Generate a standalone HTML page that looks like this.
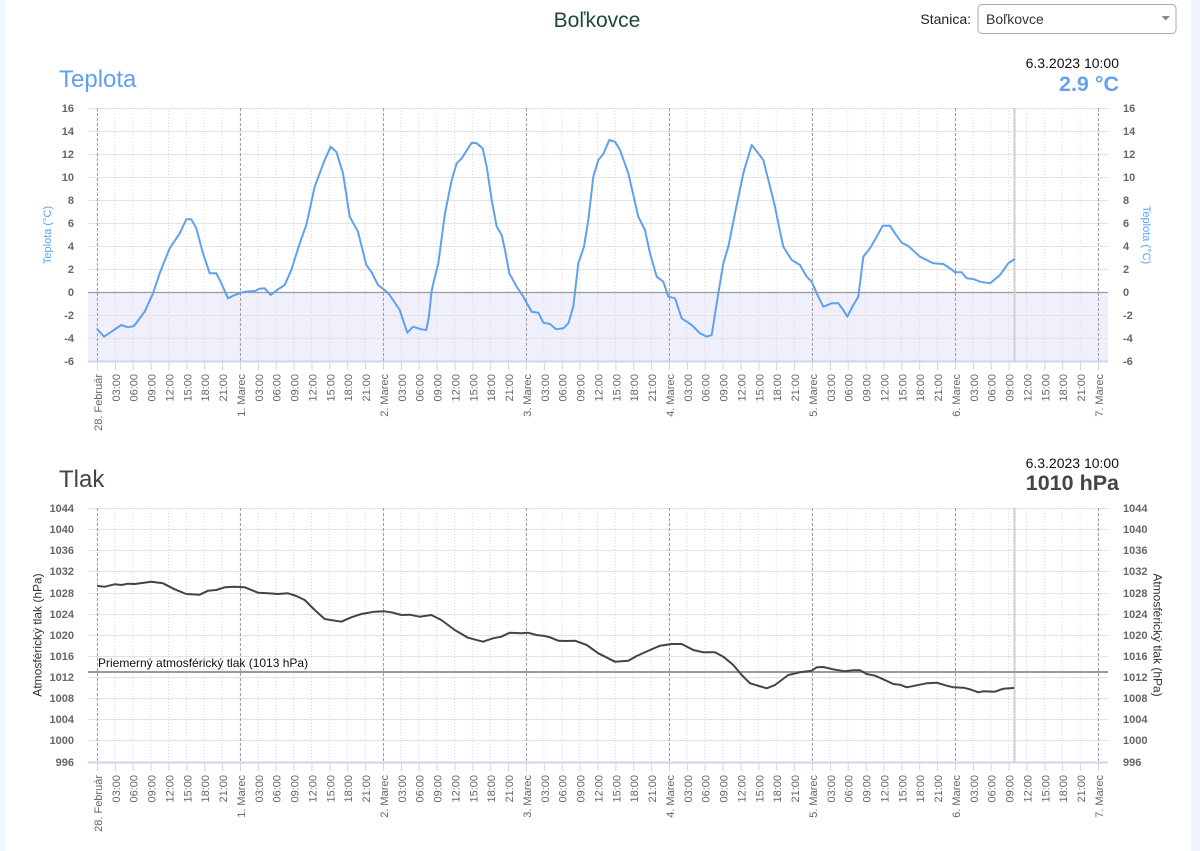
<!DOCTYPE html>
<html><head><meta charset="utf-8">
<style>
html,body{margin:0;padding:0;background:#fff;width:1200px;height:851px;overflow:hidden}
svg{display:block}
text{font-family:"Liberation Sans",Arial,sans-serif}
.yl{font-size:11px;font-weight:bold;fill:#666}
.xl{font-size:11px;fill:#666}
</style></head><body>
<svg width="1200" height="851" viewBox="0 0 1200 851" xmlns="http://www.w3.org/2000/svg">
<defs>
<pattern id="dots" x="96.5" y="0" width="17.875" height="3" patternUnits="userSpaceOnUse">
<rect x="0" y="0" width="1" height="1" fill="#d8d8d8"/>
</pattern>
</defs>
<rect x="0" y="0" width="5" height="851" fill="#f1f6fc"/>
<rect x="1191" y="0" width="9" height="851" fill="#f1f6fc"/>

<!-- header -->
<text x="597" y="27" text-anchor="middle" font-size="21" fill="#1e4a36">Boľkovce</text>
<text x="971" y="24" text-anchor="end" font-size="14" fill="#222">Stanica:</text>
<rect x="978" y="4.5" width="198" height="29" rx="4" fill="#fff" stroke="#aaa"/>
<text x="986" y="24" font-size="14" fill="#333">Boľkovce</text>
<polygon points="1161.5,16 1170,16 1165.75,20.5" fill="#888"/>

<!-- TEMPERATURE -->
<text x="59" y="87" font-size="24" fill="#5fa0f0">Teplota</text>
<text x="1119" y="68" text-anchor="end" font-size="14" fill="#111">6.3.2023 10:00</text>
<text x="1119" y="91" text-anchor="end" font-size="21.5" font-weight="bold" fill="#66a3ef">2.9 °C</text>

<rect x="88" y="292.5" width="1020" height="69" fill="#f0f0fc"/>
<rect x="88" y="108" width="1020" height="253" fill="url(#dots)"/>
<g stroke="#e3e3e3" stroke-width="1">
<path d="M88 108.5H1108M88 131.5H1108M88 154.5H1108M88 177.5H1108M88 200.5H1108M88 223.5H1108M88 246.5H1108M88 269.5H1108M88 315.5H1108M88 338.5H1108"/>
</g>
<path d="M88 292.5H1108" stroke="#999" stroke-width="1.3"/>
<g stroke="#a0a0a0" stroke-width="1" stroke-dasharray="3,2">
<path d="M97.5 108V361M240.5 108V361M383.5 108V361M526.5 108V361M669.5 108V361M812.5 108V361M955.5 108V361M1098.5 108V361"/>
</g>
<path d="M1014.5 108V361" stroke="#cfcfcf" stroke-width="2"/>
<path d="M88 361.5H1108" stroke="#ccd6eb" stroke-width="2"/>
<path stroke="#ccd6eb" stroke-width="1" d="M97.5 362V370M115.4 362V370M133.2 362V370M151.1 362V370M169 362V370M186.9 362V370M204.7 362V370M222.6 362V370M240.5 362V370M258.4 362V370M276.2 362V370M294.1 362V370M312 362V370M329.9 362V370M347.7 362V370M365.6 362V370M383.5 362V370M401.4 362V370M419.2 362V370M437.1 362V370M455 362V370M472.9 362V370M490.7 362V370M508.6 362V370M526.5 362V370M544.4 362V370M562.2 362V370M580.1 362V370M598 362V370M615.9 362V370M633.7 362V370M651.6 362V370M669.5 362V370M687.4 362V370M705.2 362V370M723.1 362V370M741 362V370M758.9 362V370M776.7 362V370M794.6 362V370M812.5 362V370M830.4 362V370M848.2 362V370M866.1 362V370M884 362V370M901.9 362V370M919.7 362V370M937.6 362V370M955.5 362V370M973.4 362V370M991.2 362V370M1009.1 362V370M1027 362V370M1044.9 362V370M1062.7 362V370M1080.6 362V370M1098.5 362V370"/>

<g class="yl" text-anchor="end">
<text x="74" y="112">16</text><text x="74" y="135">14</text><text x="74" y="158">12</text><text x="74" y="181">10</text><text x="74" y="204">8</text><text x="74" y="227">6</text><text x="74" y="250">4</text><text x="74" y="273">2</text><text x="74" y="296">0</text><text x="74" y="319">-2</text><text x="74" y="342">-4</text><text x="74" y="365">-6</text>
</g>
<g class="yl">
<text x="1123" y="112">16</text><text x="1123" y="135">14</text><text x="1123" y="158">12</text><text x="1123" y="181">10</text><text x="1123" y="204">8</text><text x="1123" y="227">6</text><text x="1123" y="250">4</text><text x="1123" y="273">2</text><text x="1123" y="296">0</text><text x="1123" y="319">-2</text><text x="1123" y="342">-4</text><text x="1123" y="365">-6</text>
</g>
<text transform="translate(51,235) rotate(-90)" text-anchor="middle" font-size="11" fill="#5fa0f0">Teplota (°C)</text>
<text transform="translate(1143,235) rotate(90)" text-anchor="middle" font-size="11" fill="#5fa0f0">Teplota (°C)</text>

<g class="xl" text-anchor="end">
<text transform="translate(102,374) rotate(-90)">28. Február</text>
<text transform="translate(119.9,374) rotate(-90)">03:00</text>
<text transform="translate(137.7,374) rotate(-90)">06:00</text>
<text transform="translate(155.6,374) rotate(-90)">09:00</text>
<text transform="translate(173.5,374) rotate(-90)">12:00</text>
<text transform="translate(191.4,374) rotate(-90)">15:00</text>
<text transform="translate(209.2,374) rotate(-90)">18:00</text>
<text transform="translate(227.1,374) rotate(-90)">21:00</text>
<text transform="translate(245,374) rotate(-90)">1. Marec</text>
<text transform="translate(262.9,374) rotate(-90)">03:00</text>
<text transform="translate(280.7,374) rotate(-90)">06:00</text>
<text transform="translate(298.6,374) rotate(-90)">09:00</text>
<text transform="translate(316.5,374) rotate(-90)">12:00</text>
<text transform="translate(334.4,374) rotate(-90)">15:00</text>
<text transform="translate(352.2,374) rotate(-90)">18:00</text>
<text transform="translate(370.1,374) rotate(-90)">21:00</text>
<text transform="translate(388,374) rotate(-90)">2. Marec</text>
<text transform="translate(405.9,374) rotate(-90)">03:00</text>
<text transform="translate(423.7,374) rotate(-90)">06:00</text>
<text transform="translate(441.6,374) rotate(-90)">09:00</text>
<text transform="translate(459.5,374) rotate(-90)">12:00</text>
<text transform="translate(477.4,374) rotate(-90)">15:00</text>
<text transform="translate(495.2,374) rotate(-90)">18:00</text>
<text transform="translate(513.1,374) rotate(-90)">21:00</text>
<text transform="translate(531,374) rotate(-90)">3. Marec</text>
<text transform="translate(548.9,374) rotate(-90)">03:00</text>
<text transform="translate(566.7,374) rotate(-90)">06:00</text>
<text transform="translate(584.6,374) rotate(-90)">09:00</text>
<text transform="translate(602.5,374) rotate(-90)">12:00</text>
<text transform="translate(620.4,374) rotate(-90)">15:00</text>
<text transform="translate(638.2,374) rotate(-90)">18:00</text>
<text transform="translate(656.1,374) rotate(-90)">21:00</text>
<text transform="translate(674,374) rotate(-90)">4. Marec</text>
<text transform="translate(691.9,374) rotate(-90)">03:00</text>
<text transform="translate(709.7,374) rotate(-90)">06:00</text>
<text transform="translate(727.6,374) rotate(-90)">09:00</text>
<text transform="translate(745.5,374) rotate(-90)">12:00</text>
<text transform="translate(763.4,374) rotate(-90)">15:00</text>
<text transform="translate(781.2,374) rotate(-90)">18:00</text>
<text transform="translate(799.1,374) rotate(-90)">21:00</text>
<text transform="translate(817,374) rotate(-90)">5. Marec</text>
<text transform="translate(834.9,374) rotate(-90)">03:00</text>
<text transform="translate(852.7,374) rotate(-90)">06:00</text>
<text transform="translate(870.6,374) rotate(-90)">09:00</text>
<text transform="translate(888.5,374) rotate(-90)">12:00</text>
<text transform="translate(906.4,374) rotate(-90)">15:00</text>
<text transform="translate(924.2,374) rotate(-90)">18:00</text>
<text transform="translate(942.1,374) rotate(-90)">21:00</text>
<text transform="translate(960,374) rotate(-90)">6. Marec</text>
<text transform="translate(977.9,374) rotate(-90)">03:00</text>
<text transform="translate(995.7,374) rotate(-90)">06:00</text>
<text transform="translate(1013.6,374) rotate(-90)">09:00</text>
<text transform="translate(1031.5,374) rotate(-90)">12:00</text>
<text transform="translate(1049.4,374) rotate(-90)">15:00</text>
<text transform="translate(1067.2,374) rotate(-90)">18:00</text>
<text transform="translate(1085.1,374) rotate(-90)">21:00</text>
<text transform="translate(1103,374) rotate(-90)">7. Marec</text>
</g>

<polyline fill="none" stroke="#5fa0f0" stroke-width="2" stroke-linejoin="round" stroke-linecap="round" points="97.3,329.3 104,336.7 121.3,325 128,327.3 134,326 144.7,311.7 153,293.3 159.7,273.3 169.7,248.3 179.7,233.3 186.3,219.3 191.3,219.3 196.3,228.3 203,253.3 209.7,273.3 216.3,273.3 221.3,283.3 228,298.3 234.7,295 244.7,291.7 254.7,291 259.7,288.7 264.7,288.3 270.7,295 278,289.3 284.7,285 291.3,270 299.7,243.3 306.3,225 314.7,186.7 324.7,160 330.7,146.7 336.3,151.7 343,173.3 349.7,216.7 358,231.7 366.3,265 371.3,271.7 378,285 384.7,290 389.7,295 399.7,310 407.3,332.7 413,326.7 421.3,329.3 426.3,330 429,316 431.5,292 433.3,283.3 438.3,263.3 445,213.3 451.7,180 456.7,163.3 461.7,158.3 471.7,142.7 476.7,143.3 482.7,148.3 486.7,166.7 491.7,200 496.7,226.7 501.7,235 505,250 509.3,273.3 516.7,286.7 523.3,296.7 531.7,311.7 538.3,312.7 543.3,322.7 550,324 556,329.3 563.3,328.3 568.3,323.3 573.3,306.7 578.3,263.3 584,246.7 588.3,220 593.3,176.7 598.3,160 603.3,154 609.3,140 615,141.7 620,150 628.3,173.3 638.3,216.7 645,230 650,253.3 656.7,276.7 663.3,281.7 668.3,296.7 675,298.3 681.7,318.3 691.7,325 700,333.3 706.7,336.7 711.7,335 716.7,303.3 723.3,263.3 728.3,246.7 735,213.3 743.3,173.3 751.7,145 758.3,153.3 763.3,160 771.7,193.3 775,206.7 779.3,228 783.3,246.7 791.7,260 800,265 806.7,276.7 811.7,281.7 816.7,293.3 823.3,306.7 831.7,303.3 838.3,303.3 843.3,310 847.3,316.7 853.3,305 858.3,296.7 863.3,256.7 870,248.3 876.7,236.7 882.7,225.7 890,225.7 895,233.3 901.7,242.7 908.3,246 920,256.7 933.3,263.3 943.3,264 950,268.3 955,272.3 961.7,272.3 966.7,278.3 973.3,279 980,281.7 990,283.3 1000,275 1008.3,263.3 1014.3,259.3"/>

<!-- PRESSURE -->
<text x="59" y="487" font-size="24" fill="#444">Tlak</text>
<text x="1119" y="468" text-anchor="end" font-size="14" fill="#111">6.3.2023 10:00</text>
<text x="1119" y="490" text-anchor="end" font-size="21.5" font-weight="bold" fill="#444">1010 hPa</text>

<rect x="88" y="508" width="1020" height="254" fill="url(#dots)"/>
<g stroke="#e3e3e3" stroke-width="1">
<path d="M88 508.5H1108M88 529.5H1108M88 550.5H1108M88 571.5H1108M88 593.5H1108M88 614.5H1108M88 635.5H1108M88 656.5H1108M88 677.5H1108M88 698.5H1108M88 719.5H1108M88 740.5H1108"/>
</g>
<g stroke="#a0a0a0" stroke-width="1" stroke-dasharray="3,2">
<path d="M97.5 508V762M240.5 508V762M383.5 508V762M526.5 508V762M669.5 508V762M812.5 508V762M955.5 508V762M1098.5 508V762"/>
</g>
<path d="M1014.5 508V762" stroke="#cfcfcf" stroke-width="2"/>
<path d="M88 672H1108" stroke="#999" stroke-width="2"/>
<text x="98" y="667" font-size="12" fill="#111">Priemerný atmosférický tlak (1013 hPa)</text>
<path d="M88 762.5H1108" stroke="#ccd6eb" stroke-width="2"/>
<path stroke="#ccd6eb" stroke-width="1" d="M97.5 763V771M115.4 763V771M133.2 763V771M151.1 763V771M169 763V771M186.9 763V771M204.7 763V771M222.6 763V771M240.5 763V771M258.4 763V771M276.2 763V771M294.1 763V771M312 763V771M329.9 763V771M347.7 763V771M365.6 763V771M383.5 763V771M401.4 763V771M419.2 763V771M437.1 763V771M455 763V771M472.9 763V771M490.7 763V771M508.6 763V771M526.5 763V771M544.4 763V771M562.2 763V771M580.1 763V771M598 763V771M615.9 763V771M633.7 763V771M651.6 763V771M669.5 763V771M687.4 763V771M705.2 763V771M723.1 763V771M741 763V771M758.9 763V771M776.7 763V771M794.6 763V771M812.5 763V771M830.4 763V771M848.2 763V771M866.1 763V771M884 763V771M901.9 763V771M919.7 763V771M937.6 763V771M955.5 763V771M973.4 763V771M991.2 763V771M1009.1 763V771M1027 763V771M1044.9 763V771M1062.7 763V771M1080.6 763V771M1098.5 763V771"/>

<g class="yl" text-anchor="end">
<text x="74" y="512">1044</text><text x="74" y="533">1040</text><text x="74" y="554">1036</text><text x="74" y="575">1032</text><text x="74" y="597">1028</text><text x="74" y="618">1024</text><text x="74" y="639">1020</text><text x="74" y="660">1016</text><text x="74" y="681">1012</text><text x="74" y="702">1008</text><text x="74" y="723">1004</text><text x="74" y="744">1000</text><text x="74" y="766">996</text>
</g>
<g class="yl">
<text x="1123" y="512">1044</text><text x="1123" y="533">1040</text><text x="1123" y="554">1036</text><text x="1123" y="575">1032</text><text x="1123" y="597">1028</text><text x="1123" y="618">1024</text><text x="1123" y="639">1020</text><text x="1123" y="660">1016</text><text x="1123" y="681">1012</text><text x="1123" y="702">1008</text><text x="1123" y="723">1004</text><text x="1123" y="744">1000</text><text x="1123" y="766">996</text>
</g>
<text transform="translate(41.5,635) rotate(-90)" text-anchor="middle" font-size="12" fill="#333">Atmosférický tlak (hPa)</text>
<text transform="translate(1153.5,635) rotate(90)" text-anchor="middle" font-size="12" fill="#333">Atmosférický tlak (hPa)</text>

<g class="xl" text-anchor="end">
<text transform="translate(102,775) rotate(-90)">28. Február</text>
<text transform="translate(119.9,775) rotate(-90)">03:00</text>
<text transform="translate(137.7,775) rotate(-90)">06:00</text>
<text transform="translate(155.6,775) rotate(-90)">09:00</text>
<text transform="translate(173.5,775) rotate(-90)">12:00</text>
<text transform="translate(191.4,775) rotate(-90)">15:00</text>
<text transform="translate(209.2,775) rotate(-90)">18:00</text>
<text transform="translate(227.1,775) rotate(-90)">21:00</text>
<text transform="translate(245,775) rotate(-90)">1. Marec</text>
<text transform="translate(262.9,775) rotate(-90)">03:00</text>
<text transform="translate(280.7,775) rotate(-90)">06:00</text>
<text transform="translate(298.6,775) rotate(-90)">09:00</text>
<text transform="translate(316.5,775) rotate(-90)">12:00</text>
<text transform="translate(334.4,775) rotate(-90)">15:00</text>
<text transform="translate(352.2,775) rotate(-90)">18:00</text>
<text transform="translate(370.1,775) rotate(-90)">21:00</text>
<text transform="translate(388,775) rotate(-90)">2. Marec</text>
<text transform="translate(405.9,775) rotate(-90)">03:00</text>
<text transform="translate(423.7,775) rotate(-90)">06:00</text>
<text transform="translate(441.6,775) rotate(-90)">09:00</text>
<text transform="translate(459.5,775) rotate(-90)">12:00</text>
<text transform="translate(477.4,775) rotate(-90)">15:00</text>
<text transform="translate(495.2,775) rotate(-90)">18:00</text>
<text transform="translate(513.1,775) rotate(-90)">21:00</text>
<text transform="translate(531,775) rotate(-90)">3. Marec</text>
<text transform="translate(548.9,775) rotate(-90)">03:00</text>
<text transform="translate(566.7,775) rotate(-90)">06:00</text>
<text transform="translate(584.6,775) rotate(-90)">09:00</text>
<text transform="translate(602.5,775) rotate(-90)">12:00</text>
<text transform="translate(620.4,775) rotate(-90)">15:00</text>
<text transform="translate(638.2,775) rotate(-90)">18:00</text>
<text transform="translate(656.1,775) rotate(-90)">21:00</text>
<text transform="translate(674,775) rotate(-90)">4. Marec</text>
<text transform="translate(691.9,775) rotate(-90)">03:00</text>
<text transform="translate(709.7,775) rotate(-90)">06:00</text>
<text transform="translate(727.6,775) rotate(-90)">09:00</text>
<text transform="translate(745.5,775) rotate(-90)">12:00</text>
<text transform="translate(763.4,775) rotate(-90)">15:00</text>
<text transform="translate(781.2,775) rotate(-90)">18:00</text>
<text transform="translate(799.1,775) rotate(-90)">21:00</text>
<text transform="translate(817,775) rotate(-90)">5. Marec</text>
<text transform="translate(834.9,775) rotate(-90)">03:00</text>
<text transform="translate(852.7,775) rotate(-90)">06:00</text>
<text transform="translate(870.6,775) rotate(-90)">09:00</text>
<text transform="translate(888.5,775) rotate(-90)">12:00</text>
<text transform="translate(906.4,775) rotate(-90)">15:00</text>
<text transform="translate(924.2,775) rotate(-90)">18:00</text>
<text transform="translate(942.1,775) rotate(-90)">21:00</text>
<text transform="translate(960,775) rotate(-90)">6. Marec</text>
<text transform="translate(977.9,775) rotate(-90)">03:00</text>
<text transform="translate(995.7,775) rotate(-90)">06:00</text>
<text transform="translate(1013.6,775) rotate(-90)">09:00</text>
<text transform="translate(1031.5,775) rotate(-90)">12:00</text>
<text transform="translate(1049.4,775) rotate(-90)">15:00</text>
<text transform="translate(1067.2,775) rotate(-90)">18:00</text>
<text transform="translate(1085.1,775) rotate(-90)">21:00</text>
<text transform="translate(1103,775) rotate(-90)">7. Marec</text>
</g>

<polyline fill="none" stroke="#444" stroke-width="2" stroke-linejoin="round" stroke-linecap="round" points="98,586 104.7,586.7 114.7,584.3 121.3,585 128,583.7 134.7,584 151.3,581.7 163,583.3 174.7,589.3 186.3,594 199.7,594.7 208,590.7 216.3,590 224.7,587.3 234.7,586.7 244.7,587.3 258,592.7 268,593.3 278,594 288,593.3 296.3,596 304.7,600 314.7,610 324.7,619 341.3,621.7 351.3,617.3 361.3,614 374.7,611.7 384.7,611.3 393,612.7 401.3,615 409.7,614.7 419.7,616.7 431.3,615 441.3,620 454.7,630 468,637.7 483,641.7 493,638.3 501.3,636.7 509.7,632.7 521.3,633.3 528,632.7 536.3,635 544.7,636 550,637.3 558.3,640.7 566.7,641 575,640.7 586.7,645 598.3,653.3 615,661.7 628.3,660.7 636.7,656 650,650 660,645.7 671.7,644 681.7,644 693.3,650 703.3,652.3 715,652.3 723.3,656.7 733.3,665 741.7,675 750,683.3 766.7,688.3 775,685 788.3,675 800,672.3 811.7,670.7 816.7,667.3 823.3,667 833.3,669.3 845,671.3 853.3,670.3 860,670.3 866.7,674 875,675.7 883.3,679.3 893.3,684 900,684.7 906.7,687.3 916.7,685.3 926.7,683.3 936.7,682.7 946.7,685.7 953.3,687.3 963.3,687.7 970,689.3 978.3,692.3 983.3,691.3 995,691.7 1003.3,688.7 1013.3,688"/>
</svg>
</body></html>
